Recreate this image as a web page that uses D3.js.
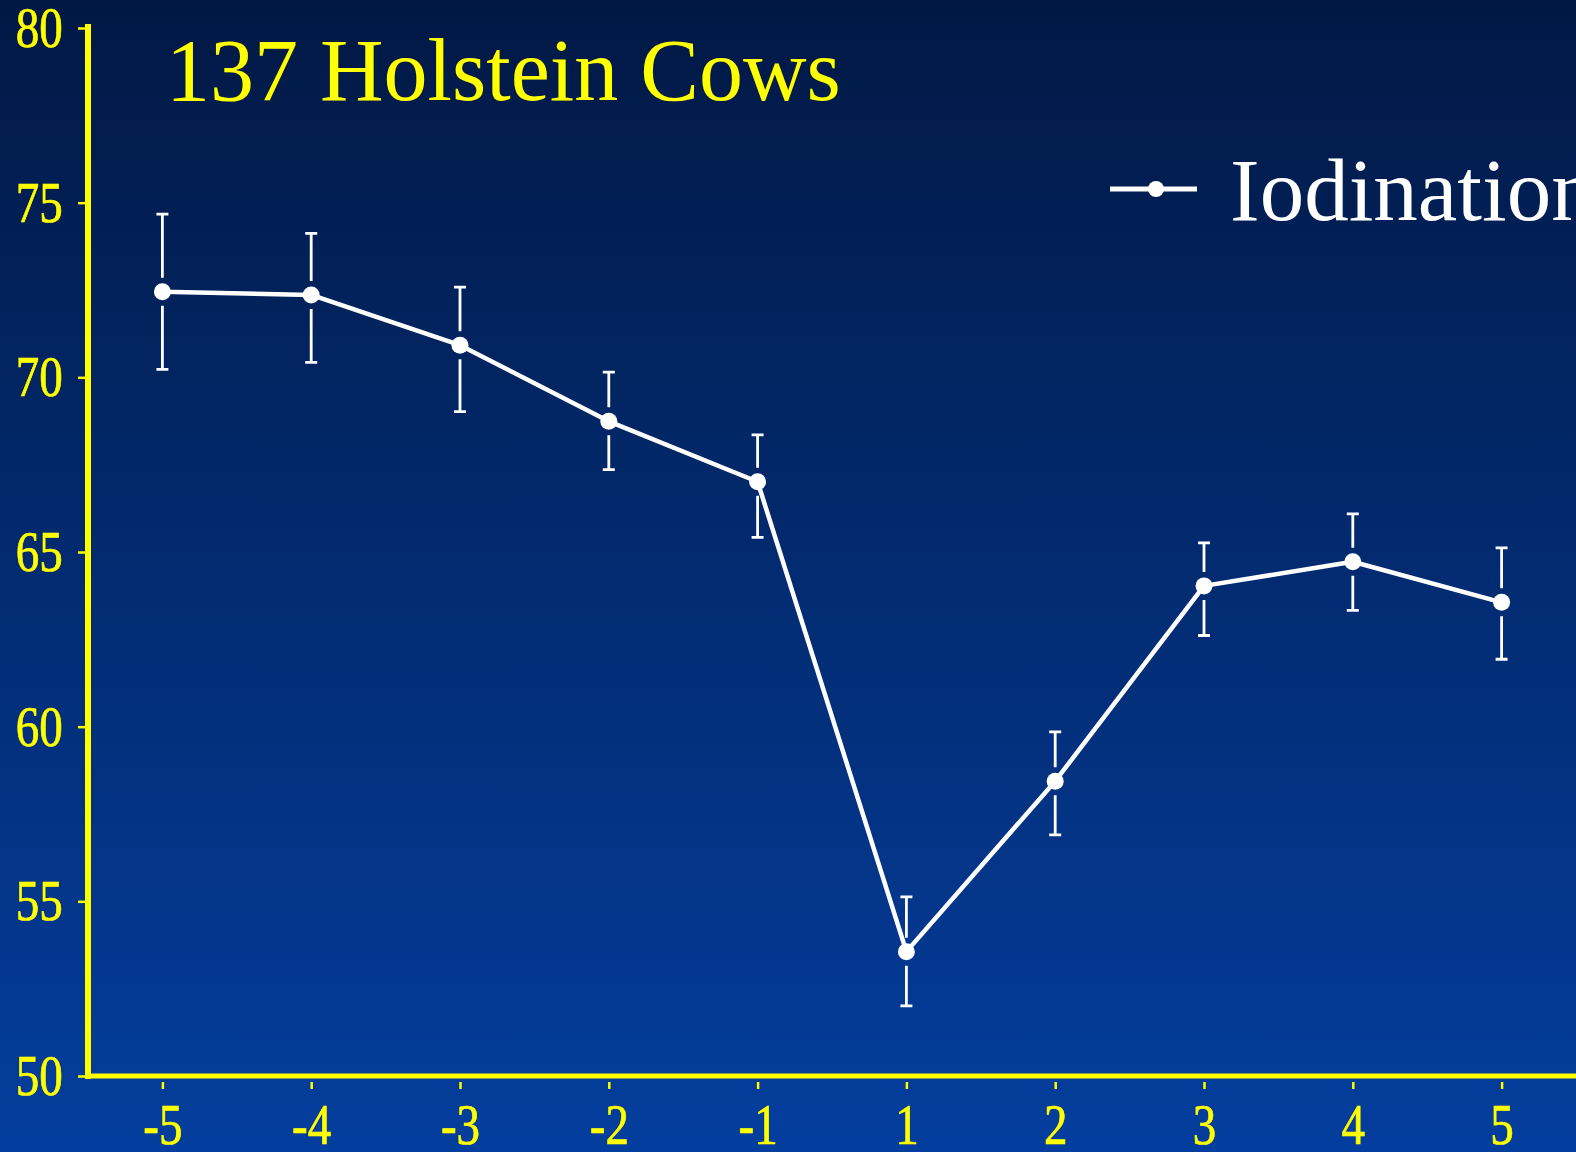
<!DOCTYPE html>
<html>
<head>
<meta charset="utf-8">
<script src="https://cdn.jsdelivr.net/npm/d3@7"></script>
<style>
  html, body { margin: 0; padding: 0; overflow: hidden; background: #02276a; }
</style>
</head>
<body>
<div id="chart"></div>
<script>
// data
const days = ["-5", "-4", "-3", "-2", "-1", "1", "2", "3", "4", "5"];
const means = [72.45, 72.36, 70.92, 68.74, 67.01, 53.56, 58.44, 64.03, 64.72, 63.56];
const errUp = [2.22, 1.76, 1.66, 1.41, 1.34, 1.57, 1.41, 1.23, 1.37, 1.56];
const errDown = [2.22, 1.93, 1.9, 1.38, 1.59, 1.55, 1.54, 1.42, 1.39, 1.63];
const yTicks = [50, 55, 60, 65, 70, 75, 80];
const title = "137 Holstein Cows";
const seriesName = "Iodination";

const width = 1576;
const height = 1152;
const marginLeft = 88;
const marginTop = 28;
const marginBottom = 76;

const data = days.map((d, i) => ({day: d, mean: means[i], up: errUp[i], down: errDown[i]}));

const svg = d3.select("#chart")
  .append("svg")
    .attr("width", width)
    .attr("height", height)
    .attr("viewBox", [0, 0, width, height])
    .style("display", "block");

// background gradient
const grad = svg.append("defs").append("linearGradient")
    .attr("id", "bg")
    .attr("x1", 0).attr("y1", 0).attr("x2", 0).attr("y2", 1);
grad.append("stop").attr("offset", "0%").attr("stop-color", "#011844");
grad.append("stop").attr("offset", "100%").attr("stop-color", "#043e9e");

svg.append("rect")
    .attr("width", width)
    .attr("height", height)
    .attr("fill", "url(#bg)");

// scales
const x = d3.scalePoint()
    .domain(days)
    .range([marginLeft, width])
    .padding(0.5);

const y = d3.scaleLinear()
    .domain([50, 80])
    .range([height - marginBottom, marginTop]);

const yellow = "#ffff00";
const fontSerif = "'Liberation Serif', 'Times New Roman', serif";

// y axis
const gy = svg.append("g")
    .attr("transform", `translate(${marginLeft},0)`)
    .call(d3.axisLeft(y).tickValues(yTicks).tickSize(8).tickPadding(22).tickSizeOuter(0));
gy.select(".domain").remove();
gy.selectAll(".tick line").attr("stroke", yellow).attr("stroke-width", 2.5).attr("x2", -10).attr("x1", -3);
gy.selectAll(".tick text")
    .attr("fill", yellow)
    .attr("stroke", yellow)
    .attr("stroke-width", 0.7)
    .attr("font-family", fontSerif)
    .attr("font-size", 56)
    .attr("dy", "0.33em")
    .attr("transform", "scale(0.84,1)");

// x axis
const gx = svg.append("g")
    .attr("transform", `translate(0,${y(50)})`)
    .call(d3.axisBottom(x).tickSize(12).tickPadding(16).tickSizeOuter(0));
gx.select(".domain").remove();
gx.selectAll(".tick line").attr("stroke", yellow).attr("stroke-width", 2.5).attr("y1", 6).attr("y2", 13);
gx.selectAll(".tick text")
    .attr("fill", yellow)
    .attr("stroke", yellow)
    .attr("stroke-width", 0.7)
    .attr("font-family", fontSerif)
    .attr("font-size", 56)
    .attr("dy", "0.71em")
    .attr("x", 0)
    .attr("transform", "scale(0.84,1)");

// axis lines
svg.append("line")
    .attr("x1", marginLeft).attr("x2", marginLeft)
    .attr("y1", marginTop - 4).attr("y2", y(50) + 3)
    .attr("stroke", yellow).attr("stroke-width", 6);
svg.append("line")
    .attr("x1", marginLeft - 3).attr("x2", width)
    .attr("y1", y(50)).attr("y2", y(50))
    .attr("stroke", yellow).attr("stroke-width", 5);

// error bars (with a small gap around each point)
const gap = 14;
const cap = 6;
const eb = svg.append("g")
    .attr("stroke", "white")
    .attr("stroke-width", 2.8)
    .attr("fill", "none");

eb.selectAll(".up")
  .data(data)
  .join("path")
    .attr("d", d => {
      const cx = x(d.day), top = y(d.mean + d.up), end = y(d.mean) - gap;
      return `M${cx - cap},${top}H${cx + cap}M${cx},${top}V${end}`;
    });

eb.selectAll(".down")
  .data(data)
  .join("path")
    .attr("d", d => {
      const cx = x(d.day), bot = y(d.mean - d.down), start = y(d.mean) + gap;
      return `M${cx - cap},${bot}H${cx + cap}M${cx},${bot}V${start}`;
    });

// line
svg.append("path")
    .datum(data)
    .attr("fill", "none")
    .attr("stroke", "white")
    .attr("stroke-width", 4.5)
    .attr("stroke-linejoin", "round")
    .attr("d", d3.line().x(d => x(d.day)).y(d => y(d.mean)));

svg.append("g")
    .attr("fill", "white")
  .selectAll("circle")
  .data(data)
  .join("circle")
    .attr("cx", d => x(d.day))
    .attr("cy", d => y(d.mean))
    .attr("r", 8.5);

// title
svg.append("text")
    .attr("x", 166)
    .attr("y", 100)
    .attr("fill", yellow)
    .attr("font-family", fontSerif)
    .attr("font-size", 88)
    .text(title);

// legend
const lg = svg.append("g").attr("transform", "translate(1110,189)");
lg.append("line")
    .attr("x1", 0).attr("x2", 87)
    .attr("stroke", "white").attr("stroke-width", 5);
lg.append("circle")
    .attr("cx", 46).attr("r", 8).attr("fill", "white");
lg.append("text")
    .attr("x", 120)
    .attr("y", 31)
    .attr("fill", "white")
    .attr("font-family", fontSerif)
    .attr("font-size", 89)
    .text(seriesName);
</script>
</body>
</html>
